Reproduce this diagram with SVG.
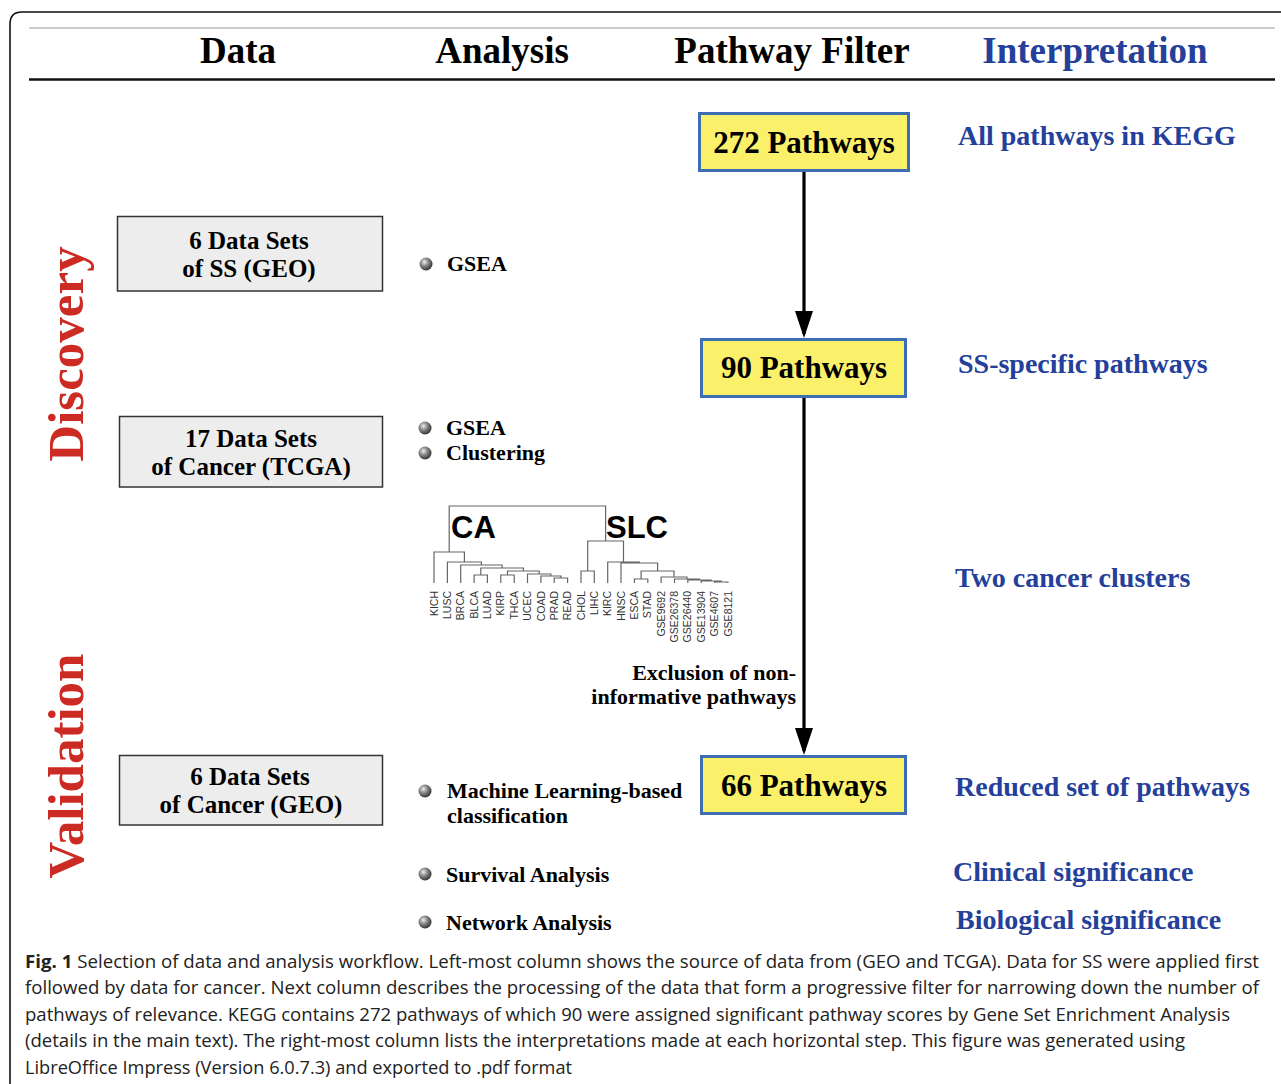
<svg xmlns="http://www.w3.org/2000/svg" width="1281" height="1084" viewBox="0 0 1281 1084">
<defs>
<radialGradient id="ball" cx="0.38" cy="0.35" r="0.75">
<stop offset="0" stop-color="#eeeeee"/>
<stop offset="0.4" stop-color="#8a8a8a"/>
<stop offset="1" stop-color="#1e1e1e"/>
</radialGradient>
<marker id="ah" viewBox="0 0 27 18" refX="23" refY="9" markerWidth="27" markerHeight="18" markerUnits="userSpaceOnUse" orient="auto">
<path d="M0 0 L27 9 L0 18 Z" fill="#000"/>
</marker>
</defs>
<style>
.hdr{font-family:"Liberation Serif","Times New Roman",serif;font-weight:bold;font-size:37px;text-anchor:middle;fill:#000}
.interp{font-family:"Liberation Serif","Times New Roman",serif;font-weight:bold;font-size:28px;fill:#24409a}
.pw{font-family:"Liberation Serif","Times New Roman",serif;font-weight:bold;font-size:31px;text-anchor:middle;fill:#000}
.ds{font-family:"Liberation Serif","Times New Roman",serif;font-weight:bold;font-size:25px;text-anchor:middle;fill:#000}
.bl{font-family:"Liberation Serif","Times New Roman",serif;font-weight:bold;font-size:22px;fill:#000}
.phase{font-family:"Liberation Serif","Times New Roman",serif;font-weight:bold;font-size:51px;text-anchor:middle;fill:#cc2b23}
.ybox{fill:#fbf06a;stroke:#3d6eb4;stroke-width:3}
.gbox{fill:#ededed;stroke:#333;stroke-width:1.5}
.leaf{font-family:"Liberation Sans",Arial,sans-serif;font-size:10.5px;fill:#333;text-anchor:end}
.cl{font-family:"Liberation Sans",Arial,sans-serif;font-weight:bold;font-size:31px;fill:#000}
.cap{font-family:"Open Sans","Noto Sans",sans-serif;font-size:18px;fill:#222}
.tree{fill:none;stroke:#666;stroke-width:1.2}
</style>
<rect width="1281" height="1084" fill="#fff"/>
<path d="M10 1084 V24 Q10 12 22 12 H1281" fill="none" stroke="#111" stroke-width="1.6"/>
<line x1="29" y1="28" x2="1275" y2="28" stroke="#bdbdbd" stroke-width="1.5"/>
<line x1="29" y1="79.5" x2="1275" y2="79.5" stroke="#111" stroke-width="2.5"/>
<g id="headers">
<text class="hdr" x="238" y="63">Data</text>
<text class="hdr" x="502" y="63">Analysis</text>
<text class="hdr" x="792" y="63">Pathway Filter</text>
<text class="hdr" x="1095" y="63" style="fill:#24409a">Interpretation</text>
</g>
<g id="phases">
<text class="phase" transform="translate(83,354) rotate(-90)">Discovery</text>
<text class="phase" transform="translate(83,766) rotate(-90)">Validation</text>
</g>
<g id="data-ss">
<rect class="gbox" x="117.5" y="216.5" width="265" height="74.5"/>
<text class="ds" x="249" y="249">6 Data Sets</text>
<text class="ds" x="249" y="277">of SS (GEO)</text>
</g>
<g id="data-tcga">
<rect class="gbox" x="119.5" y="416.5" width="263" height="70.5"/>
<text class="ds" x="251" y="447">17 Data Sets</text>
<text class="ds" x="251" y="475">of Cancer (TCGA)</text>
</g>
<g id="data-geo">
<rect class="gbox" x="119.5" y="755.5" width="263" height="69.5"/>
<text class="ds" x="250" y="785">6 Data Sets</text>
<text class="ds" x="251" y="813">of Cancer (GEO)</text>
</g>
<g id="analysis">
<circle cx="426" cy="264" r="6.5" fill="url(#ball)"/>
<text class="bl" x="447" y="271">GSEA</text>
<circle cx="425" cy="428" r="6.5" fill="url(#ball)"/>
<text class="bl" x="446" y="435">GSEA</text>
<circle cx="425" cy="453" r="6.5" fill="url(#ball)"/>
<text class="bl" x="446" y="460">Clustering</text>
<circle cx="425" cy="791" r="6.5" fill="url(#ball)"/>
<text class="bl" x="447" y="798">Machine Learning-based</text>
<text class="bl" x="447" y="823">classification</text>
<circle cx="425" cy="874" r="6.5" fill="url(#ball)"/>
<text class="bl" x="446" y="882">Survival Analysis</text>
<circle cx="425" cy="922" r="6.5" fill="url(#ball)"/>
<text class="bl" x="446" y="930">Network Analysis</text>
</g>
<g id="dendrogram">
<path class="tree" d="M474.1 583 V575 H487.4 V583 M554.2 583 V578 H567.6 V583 M540.9 583 V576 H560.9 V578 M527.5 583 V574 H550.9 V576 M500.8 583 V575 H514.2 V583 M507.5 575 V571 H539.2 V574 M480.8 575 V568 H523.4 V571 M460.7 583 V565 H502.1 V568 M447.4 583 V562 H481.4 V565 M434 583 V552 H464.4 V562"/>
<path class="tree" d="M634.4 583 V579 H647.8 V583 M714.6 583 V582 H727.9 V583 M701.2 583 V581 H721.3 V582 M687.8 583 V580 H711.2 V581 M674.5 583 V579 H699.5 V580 M661.1 583 V577 H687 V579 M641.1 579 V571 H674 V577 M621 583 V563 H657.6 V571 M607.7 583 V562 H639.3 V563 M581 583 V571 H594.3 V583 M587.7 571 V541 H623.5 V562"/>
<path class="tree" d="M449.2 552 V506 H605.6 V541"/>
<text class="cl" x="451" y="538">CA</text>
<text class="cl" x="606" y="538">SLC</text>
<g class="leaf">
<text transform="translate(434,591) rotate(-90)" dy="0.35em">KICH</text>
<text transform="translate(447.4,591) rotate(-90)" dy="0.35em">LUSC</text>
<text transform="translate(460.7,591) rotate(-90)" dy="0.35em">BRCA</text>
<text transform="translate(474.1,591) rotate(-90)" dy="0.35em">BLCA</text>
<text transform="translate(487.4,591) rotate(-90)" dy="0.35em">LUAD</text>
<text transform="translate(500.8,591) rotate(-90)" dy="0.35em">KIRP</text>
<text transform="translate(514.2,591) rotate(-90)" dy="0.35em">THCA</text>
<text transform="translate(527.5,591) rotate(-90)" dy="0.35em">UCEC</text>
<text transform="translate(540.9,591) rotate(-90)" dy="0.35em">COAD</text>
<text transform="translate(554.2,591) rotate(-90)" dy="0.35em">PRAD</text>
<text transform="translate(567.6,591) rotate(-90)" dy="0.35em">READ</text>
<text transform="translate(581,591) rotate(-90)" dy="0.35em">CHOL</text>
<text transform="translate(594.3,591) rotate(-90)" dy="0.35em">LIHC</text>
<text transform="translate(607.7,591) rotate(-90)" dy="0.35em">KIRC</text>
<text transform="translate(621,591) rotate(-90)" dy="0.35em">HNSC</text>
<text transform="translate(634.4,591) rotate(-90)" dy="0.35em">ESCA</text>
<text transform="translate(647.8,591) rotate(-90)" dy="0.35em">STAD</text>
<text transform="translate(661.1,591) rotate(-90)" dy="0.35em">GSE9692</text>
<text transform="translate(674.5,591) rotate(-90)" dy="0.35em">GSE26378</text>
<text transform="translate(687.8,591) rotate(-90)" dy="0.35em">GSE26440</text>
<text transform="translate(701.2,591) rotate(-90)" dy="0.35em">GSE13904</text>
<text transform="translate(714.6,591) rotate(-90)" dy="0.35em">GSE4607</text>
<text transform="translate(727.9,591) rotate(-90)" dy="0.35em">GSE8121</text>
</g>
</g>
<g id="connectors">
<line x1="804" y1="171" x2="804" y2="334" stroke="#000" stroke-width="3.2" marker-end="url(#ah)"/>
<line x1="804" y1="397" x2="804" y2="751" stroke="#000" stroke-width="3.2" marker-end="url(#ah)"/>
<text class="bl" x="796" y="680" style="text-anchor:end">Exclusion of non-</text>
<text class="bl" x="796" y="704" style="text-anchor:end">informative pathways</text>
</g>
<g id="pw272">
<rect class="ybox" x="699.5" y="113.5" width="209" height="57"/>
<text class="pw" x="804" y="153">272 Pathways</text>
</g>
<g id="pw90">
<rect class="ybox" x="701.5" y="339.5" width="204" height="57"/>
<text class="pw" x="804" y="378">90 Pathways</text>
</g>
<g id="pw66">
<rect class="ybox" x="701.5" y="756.5" width="204" height="57"/>
<text class="pw" x="804" y="796">66 Pathways</text>
</g>
<g id="interpretation">
<text class="interp" x="958" y="145">All pathways in KEGG</text>
<text class="interp" x="958" y="373">SS-specific pathways</text>
<text class="interp" x="955" y="587">Two cancer clusters</text>
<text class="interp" x="955" y="796">Reduced set of pathways</text>
<text class="interp" x="953" y="881">Clinical significance</text>
<text class="interp" x="956" y="929">Biological significance</text>
</g>
<g id="caption">
<text class="cap" x="25" y="968" textLength="1234" lengthAdjust="spacingAndGlyphs"><tspan font-weight="bold">Fig. 1</tspan> Selection of data and analysis workflow. Left-most column shows the source of data from (GEO and TCGA). Data for SS were applied first</text>
<text class="cap" x="25" y="994" textLength="1234" lengthAdjust="spacingAndGlyphs">followed by data for cancer. Next column describes the processing of the data that form a progressive filter for narrowing down the number of</text>
<text class="cap" x="25" y="1021" textLength="1205" lengthAdjust="spacingAndGlyphs">pathways of relevance. KEGG contains 272 pathways of which 90 were assigned significant pathway scores by Gene Set Enrichment Analysis</text>
<text class="cap" x="25" y="1047" textLength="1160" lengthAdjust="spacingAndGlyphs">(details in the main text). The right-most column lists the interpretations made at each horizontal step. This figure was generated using</text>
<text class="cap" x="25" y="1074" textLength="547" lengthAdjust="spacingAndGlyphs">LibreOffice Impress (Version 6.0.7.3) and exported to .pdf format</text>
</g>
</svg>
